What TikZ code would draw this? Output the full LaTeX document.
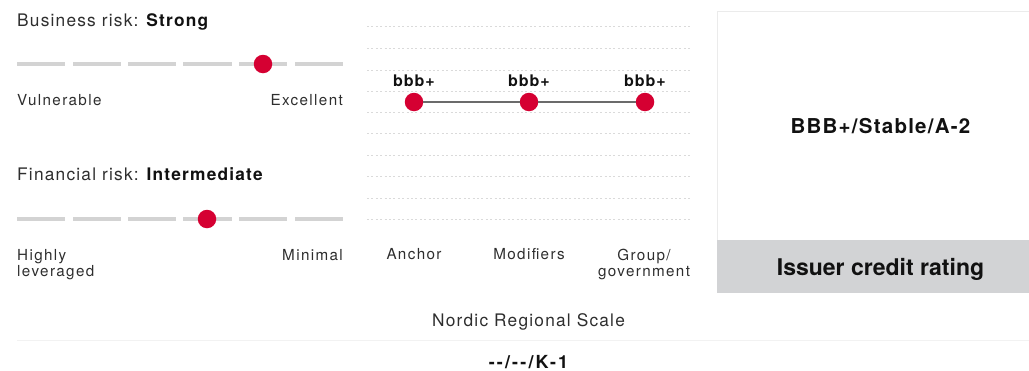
\documentclass[tikz,border=0pt]{standalone}
\usepackage{fontspec}
\setmainfont{TeX Gyre Heros}
\newfontfamily\headf[LetterSpace=7]{TeX Gyre Heros}
\newfontfamily\labf[LetterSpace=9]{TeX Gyre Heros}
\newfontfamily\boldsp[LetterSpace=6]{TeX Gyre Heros}
\newfontfamily\boldwide[LetterSpace=12]{TeX Gyre Heros}
\definecolor{spred}{HTML}{D50032}
\definecolor{segray}{HTML}{D3D3D3}
\definecolor{dotgray}{HTML}{DADADA}
\definecolor{bandgray}{HTML}{D2D3D5}
\definecolor{txt}{HTML}{2E2E2E}
\definecolor{btxt}{HTML}{111111}
\begin{document}
\begin{tikzpicture}[x=1pt,y=-1pt,
  head/.style={font=\headf\fontsize{17.3}{19}\selectfont, text=txt, inner sep=0pt, anchor=base west},
  lbl/.style={font=\labf\fontsize{15.2}{16.5}\selectfont, text=txt, inner sep=0pt},
  seg/.style={segray, line width=4.5pt},
  grid/.style={dotgray, line width=1pt, dash pattern=on 2pt off 2.4pt},
  dot/.style={circle, fill=spred, minimum size=18.5pt, inner sep=0pt},
  rate/.style={font=\boldsp\bfseries\fontsize{16}{18}\selectfont, text=btxt, inner sep=0pt, anchor=base},
  link/.style={draw=black!58, line width=2.4pt}]
\useasboundingbox (0,0) rectangle (1029,370);
% left scales
\foreach \a/\b in {17/65,73/121,128/176,183/232,239/287,295/343}{
  \draw[seg] (\a,64) -- (\b,64);
  \draw[seg] (\a,219) -- (\b,219);
}
\node[head] (brisk) at (17,26.7) {Business risk: {\bfseries\color{btxt}Strong}};
\node[dot] (bdot) at (263,64) {};
\node[lbl, anchor=base west] (vul) at (17,105) {Vulnerable};
\node[lbl, anchor=base east] (exc) at (343,105) {Excellent};
\node[head] (frisk) at (17,180.7) {Financial risk: {\bfseries\color{btxt}Intermediate}};
\node[dot] (fdot) at (207,219) {};
\node[lbl, anchor=base west, align=left] (high) at (17,276.5) {Highly\\leveraged};
\node[lbl, anchor=base east] (mini) at (343,260) {Minimal};
% middle grid
\foreach \y in {26,48,70,91,112,133,155,176,198,219}{
  \draw[grid] (367,\y) -- (690,\y);
}
\node[rate] (r1) at (414,86.7) {bbb+};
\node[rate] (r2) at (529,86.7) {bbb+};
\node[rate] (r3) at (645,86.7) {bbb+};
\node[dot] (d1) at (414,102) {};
\node[dot] (d2) at (529,102) {};
\node[dot] (d3) at (645,102) {};
\draw[link] (d1) -- (d2);
\draw[link] (d2) -- (d3);
\node[lbl, anchor=base] (anc) at (414,259.5) {Anchor};
\node[lbl, anchor=base] (mod) at (529,259.5) {Modifiers};
\node[lbl, align=center, anchor=base] (grp) at (644,276.5) {Group/\\government};
% rating box
\draw[black!8, line width=1pt] (717,293) -- (717,11) -- (1029,11);
\fill[bandgray] (717,240) rectangle (1029,293);
\node[font=\boldsp\bfseries\fontsize{20.5}{22}\selectfont, text=btxt, inner sep=0pt, anchor=base] (icr) at (880.5,133.3) {BBB+/Stable/A-2};
\node[font=\bfseries\fontsize{23}{25}\selectfont, text=btxt, inner sep=0pt, anchor=base] (icrl) at (880.5,275) {Issuer credit rating};
% bottom
\node[head, anchor=base] (nrs) at (528.5,326.7) {Nordic Regional Scale};
\draw[black!5, line width=1pt] (17,340) -- (1029,340);
\node[font=\boldwide\bfseries\fontsize{18}{20}\selectfont, text=btxt, inner sep=0pt, anchor=base] (k1) at (528.5,368) {-{}-/-{}-/K-1};
\end{tikzpicture}
\end{document}
